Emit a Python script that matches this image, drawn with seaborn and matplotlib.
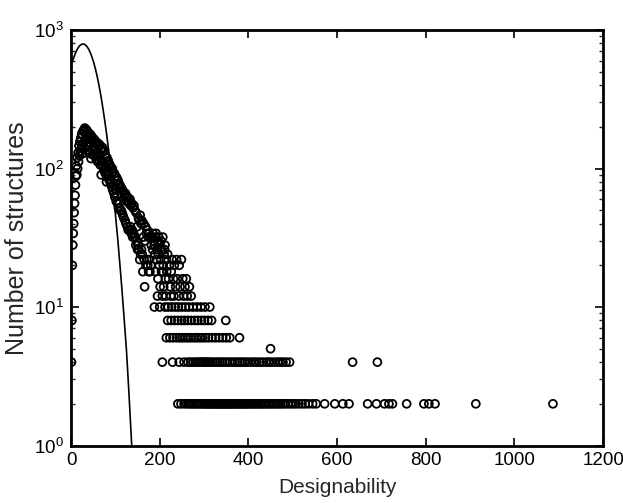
import matplotlib
matplotlib.use("Agg")
import matplotlib.pyplot as plt
import seaborn as sns
import pandas as pd
from matplotlib.ticker import LogLocator, FixedLocator, NullFormatter

# ---- data: dense head (designability 1..180, one count each) ----
head_x = list(range(1, 181))
head_y = [4, 8, 20, 28, 34, 40, 48, 56, 64, 76,
          88, 104, 90, 120, 100, 130, 112, 146, 124, 156,
          130, 166, 140, 178, 148, 128, 186, 154, 190, 142,
          196, 160, 176, 192, 148, 170, 186, 136, 168, 180,
          146, 164, 128, 176, 118, 160, 170, 136, 158, 126,
          164, 146, 124, 160, 138, 154, 116, 150, 132, 112,
          152, 122, 144, 114, 148, 106, 138, 90, 136, 114,
          142, 104, 132, 98, 134, 94, 124, 104, 90, 80,
          120, 96, 88, 114, 84, 108, 82, 106, 78, 102,
          80, 74, 100, 70, 94, 76, 66, 92, 62, 88,
          70, 58, 86, 64, 56, 82, 52, 78, 56, 76,
          50, 74, 50, 72, 48, 70, 46, 68, 44, 66,
          64, 42, 66, 40, 62, 58, 38, 62, 36, 58,
          56, 36, 60, 38, 54, 34, 56, 36, 32, 52,
          34, 54, 32, 50, 32, 28, 48, 30, 38, 26,
          28, 44, 26, 42, 22, 46, 24, 40, 26, 42,
          24, 18, 32, 40, 22, 14, 30, 38, 20, 34,
          22, 36, 20, 32, 18, 34, 22, 18, 32, 20]

# ---- data: tail rows (count -> designability values) ----
row34_x = [185, 192]
row32_x = [183, 190, 198, 207]
row30_x = [186, 195, 203]
row28_x = [181, 188, 200, 212]
row26_x = [184, 194, 205, 211]
row24_x = [189, 197, 210, 218]
row22_x = [193, 202, 215, 228, 238, 249]
row20_x = [199, 208, 222, 233, 244]
row18_x = [191, 204, 207, 216, 226]
row16_x = [196, 213, 220, 231, 240, 252, 260]
row14_x = [201, 209, 224, 236, 246, 257, 267]
row12_x = [195, 206, 214, 225, 232, 243, 254, 262, 271]
row10_x = [188, 200, 212, 219, 227, 235, 242, 250, 258, 266, 275, 284,
           293, 302, 313]
row8_x = [218, 226, 234, 241, 249, 256, 263, 271, 279, 286, 294, 301,
          309, 317, 349]
row6_x = [215, 223, 230, 238, 245, 251, 258, 264, 270, 277, 283, 290,
          296, 303, 310, 318, 326, 334, 342, 350, 358, 380]
row5_x = [450]
row4_x = [206, 229, 244, 255, 264, 270, 276, 281, 286, 290, 294, 298,
          302, 306, 310, 315, 320, 326, 331, 336, 341, 347, 352, 358,
          364, 370, 376, 381, 386, 392, 398, 405, 412, 418, 425, 432,
          440, 446, 452, 459, 466, 472, 478, 485, 493, 635, 691]
row2_x = [241, 248, 255, 261, 266, 270, 275, 279, 284, 288, 292, 296,
          300, 303, 306, 310, 313, 316, 319, 322, 325, 328, 331, 334,
          337, 340, 343, 346, 349, 352, 355, 358, 361, 364, 367, 370,
          373, 377, 380, 383, 387, 390, 394, 397, 401, 405, 408, 412,
          416, 420, 424, 428, 432, 436, 440, 445, 449, 454, 458, 463,
          468, 473, 478, 483, 489, 495, 501, 507, 514, 521, 528, 536,
          545, 553, 572, 595, 613, 627, 669, 689, 707, 717, 725, 757,
          796, 807, 821, 913, 1087]

tail_rows = {34: row34_x, 32: row32_x, 30: row30_x, 28: row28_x,
             26: row26_x, 24: row24_x, 22: row22_x, 20: row20_x,
             18: row18_x, 16: row16_x, 14: row14_x, 12: row12_x,
             10: row10_x, 8: row8_x, 6: row6_x, 5: row5_x, 4: row4_x,
             2: row2_x}

# ---- fitted curve ----
curve_x = [0, 5, 10, 15, 20, 25, 30, 35, 40, 45, 50, 55, 60, 65, 70, 75,
           80, 85, 90, 95, 100, 105, 110, 115, 120, 125, 130, 135, 140]
curve_y = [570, 615, 682, 736, 774, 792, 790, 767, 726, 668, 600, 525,
           447, 370, 298, 234, 180, 134, 97, 69, 47, 32, 20.7, 13.2, 8.1,
           4.9, 2.6, 1.3, 0.65]

xs = list(head_x)
ys = list(head_y)
for cnt, xl in tail_rows.items():
    xs.extend(xl)
    ys.extend([cnt] * len(xl))
pts = pd.DataFrame({"Designability": xs, "Count": ys})
curve = pd.DataFrame({"Designability": curve_x, "Count": curve_y})

sns.set_theme(style="ticks")
plt.rcParams["font.family"] = ["Liberation Sans", "DejaVu Sans"]
plt.rcParams["mathtext.fontset"] = "custom"
plt.rcParams["mathtext.rm"] = "Liberation Sans"
plt.rcParams["mathtext.it"] = "Liberation Sans"

fig = plt.figure(figsize=(6.23, 5.03), dpi=100)
ax = fig.add_axes([0.1140, 0.1143, 0.8540, 0.8260])
ax.set_yscale("log")

sns.lineplot(data=curve, x="Designability", y="Count", ax=ax,
             color="black", linewidth=1.2, sort=False)
sns.scatterplot(data=pts, x="Designability", y="Count", ax=ax,
                marker="o", s=32, facecolors="none", edgecolor="black",
                linewidth=1.3, zorder=3)

ax.set_xlim(0, 1200)
ax.set_ylim(1, 1000)
ax.xaxis.set_major_locator(FixedLocator([0, 200, 400, 600, 800, 1000, 1200]))
ax.yaxis.set_major_locator(LogLocator(base=10, numticks=10))
ax.yaxis.set_minor_locator(LogLocator(base=10, subs=range(2, 10), numticks=20))
ax.yaxis.set_minor_formatter(NullFormatter())

for sp in ax.spines.values():
    sp.set_visible(True)
    sp.set_linewidth(2.0)
    sp.set_color("black")

ax.tick_params(which="major", direction="in", length=6, width=1.2,
               top=True, right=True, colors="black")
ax.tick_params(axis="x", which="major", labelsize=13.5, pad=5)
ax.tick_params(axis="y", which="major", labelsize=13.5, pad=5)
ax.tick_params(which="minor", direction="in", length=3, width=1.0,
               top=False, right=True, left=True)
ax.tick_params(axis="x", which="minor", bottom=False, top=False)

ax.set_xlabel("Designability", fontsize=15, labelpad=6)
ax.set_ylabel("Number of structures", fontsize=18, labelpad=4)
ax.grid(False)

fig.savefig("out.png", dpi=100)
